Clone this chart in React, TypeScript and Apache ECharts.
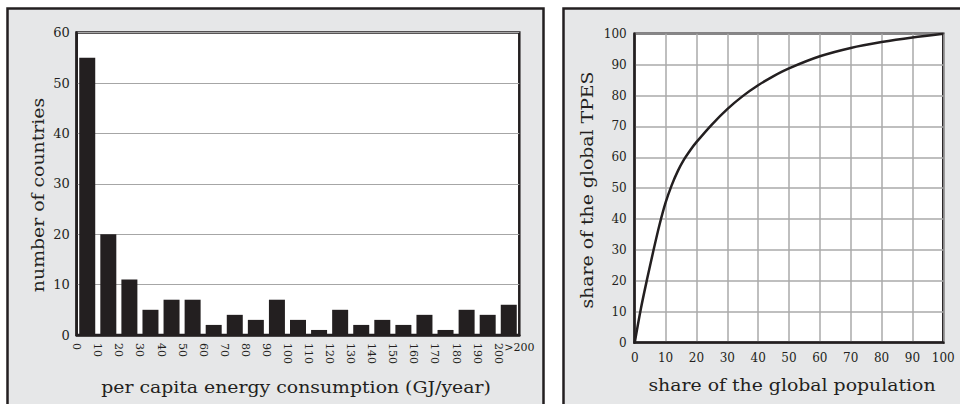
import React, { useEffect, useRef } from 'react';
import * as echarts from 'echarts';

// Histogram: lower bound of each 10 GJ/year bin (last bin is ">200")
const binStarts = [0, 10, 20, 30, 40, 50, 60, 70, 80, 90, 100, 110, 120, 130, 140, 150, 160, 170, 180, 190, 200];
const countryCounts = [55, 20, 11, 5, 7, 7, 2, 4, 3, 7, 3, 1, 5, 2, 3, 2, 4, 1, 5, 4, 6];
const lastBinLabel = '>200';

// Lorenz-type curve
const popShare = [0, 2, 4, 6, 8, 10, 12, 14, 16, 18, 20, 25, 30, 35, 40, 45, 50, 60, 70, 80, 90, 100];
const tpesShare = [0, 11, 20.5, 29.5, 38, 45.3, 51, 55.6, 59.3, 62.3, 64.9, 70.6, 75.6, 79.8, 83.3, 86.3, 88.8, 92.7, 95.4, 97.3, 98.8, 100];

const INK = '#231f20';
const FONT = '"DejaVu Serif", serif';

export default function App() {
  const ref = useRef<HTMLDivElement>(null);
  useEffect(() => {
    if (!ref.current) return;
    const chart = echarts.init(ref.current, undefined, { renderer: 'svg' });
    const binWidth = 10;
    const histMax = binStarts[binStarts.length - 1] + binWidth;
    const barData = binStarts.map((b, i) => [b + binWidth / 2, countryCounts[i]]);
    const lineData = popShare.map((p, i) => [p, tpesShare[i]]);

    const panelStyle = { fill: '#e6e7e8', stroke: INK, lineWidth: 2.5 };
    const titleStyle = (text: string) => ({
      text, font: `17px ${FONT}`, fill: INK, align: 'center', verticalAlign: 'middle',
    });
    const SX = 1.11;
    chart.setOption({
      animation: false,
      backgroundColor: '#ffffff',
      graphic: [
        { type: 'rect', z: -100, shape: { x: 7.5, y: 8.5, width: 536, height: 430 }, style: panelStyle, silent: true },
        { type: 'rect', z: -100, shape: { x: 563.5, y: 8.5, width: 430, height: 430 }, style: panelStyle, silent: true },
        { type: 'text', x: 38, y: 195, rotation: Math.PI / 2, scaleX: SX, style: titleStyle('number of countries') },
        { type: 'text', x: 296, y: 387, scaleX: SX, style: titleStyle('per capita energy consumption (GJ/year)') },
        { type: 'text', x: 587, y: 190, rotation: Math.PI / 2, scaleX: SX, style: titleStyle('share of the global TPES') },
        { type: 'text', x: 792, y: 385, scaleX: SX, style: titleStyle('share of the global population') },
      ],
      grid: [
        { left: 76.7, top: 32.6, width: 442.6, height: 302.4, show: true, backgroundColor: '#ffffff', borderColor: INK, borderWidth: 2.5 },
        { left: 634.7, top: 33.7, width: 308.6, height: 309, show: true, backgroundColor: '#ffffff', borderColor: INK, borderWidth: 2.5 },
      ],
      xAxis: [
        {
          gridIndex: 0, type: 'value', position: 'bottom', min: 0, max: histMax, interval: binWidth,
          axisLine: { show: true, onZero: false, lineStyle: { color: INK, width: 2.5 } },
          axisTick: { show: false }, splitLine: { show: false },
          axisLabel: {
            rotate: -90, margin: 8, color: INK, fontFamily: FONT, fontSize: 11,
            formatter: (v: number) => (v >= histMax ? '' : String(v)),
          },
        },
        {
          gridIndex: 0, type: 'value', position: 'bottom', offset: 0, min: 0, max: histMax, interval: binWidth,
          axisLine: { show: false, onZero: false }, axisTick: { show: false }, splitLine: { show: false },
          axisLabel: {
            margin: 7, color: INK, fontFamily: FONT, fontSize: 11,
            formatter: (v: number) => (v >= histMax ? lastBinLabel : ''),
          },
        },
        {
          gridIndex: 1, type: 'value', position: 'bottom', min: 0, max: 100, interval: 10,
          axisLine: { show: true, onZero: false, lineStyle: { color: INK, width: 2.5 } },
          axisTick: { show: false },
          splitLine: { show: true, lineStyle: { color: '#aaaaaa', width: 1.5 } },
          axisLabel: { margin: 9, color: INK, fontFamily: FONT, fontSize: 12 },
        },
      ],
      yAxis: [
        {
          gridIndex: 0, type: 'value', min: 0, max: 60, interval: 10,
          axisLine: { show: true, onZero: false, lineStyle: { color: INK, width: 2.5 } },
          axisTick: { show: false },
          splitLine: { show: true, lineStyle: { color: '#a6a6a6', width: 1.2 } },
          axisLabel: { margin: 7, color: INK, fontFamily: FONT, fontSize: 13 },
        },
        {
          gridIndex: 1, type: 'value', min: 0, max: 100, interval: 10,
          axisLine: { show: true, onZero: false, lineStyle: { color: INK, width: 2.5 } },
          axisTick: { show: false },
          splitLine: { show: true, lineStyle: { color: '#aaaaaa', width: 1.5 } },
          axisLabel: { margin: 8, color: INK, fontFamily: FONT, fontSize: 12 },
        },
      ],
      series: [
        {
          type: 'bar', xAxisIndex: 0, yAxisIndex: 0, data: barData, barWidth: 16,
          itemStyle: { color: INK }, z: 3,
        },
        {
          type: 'line', xAxisIndex: 2, yAxisIndex: 1, data: lineData, smooth: 0.3,
          showSymbol: false, symbol: 'none', lineStyle: { color: INK, width: 2.5 }, z: 3,
        },
      ],
    });
    return () => chart.dispose();
  }, []);
  return (
    <div
      ref={ref}
      style={{ position: 'fixed', left: 0, top: 0, width: 960, height: 404 }}
    />
  );
}
